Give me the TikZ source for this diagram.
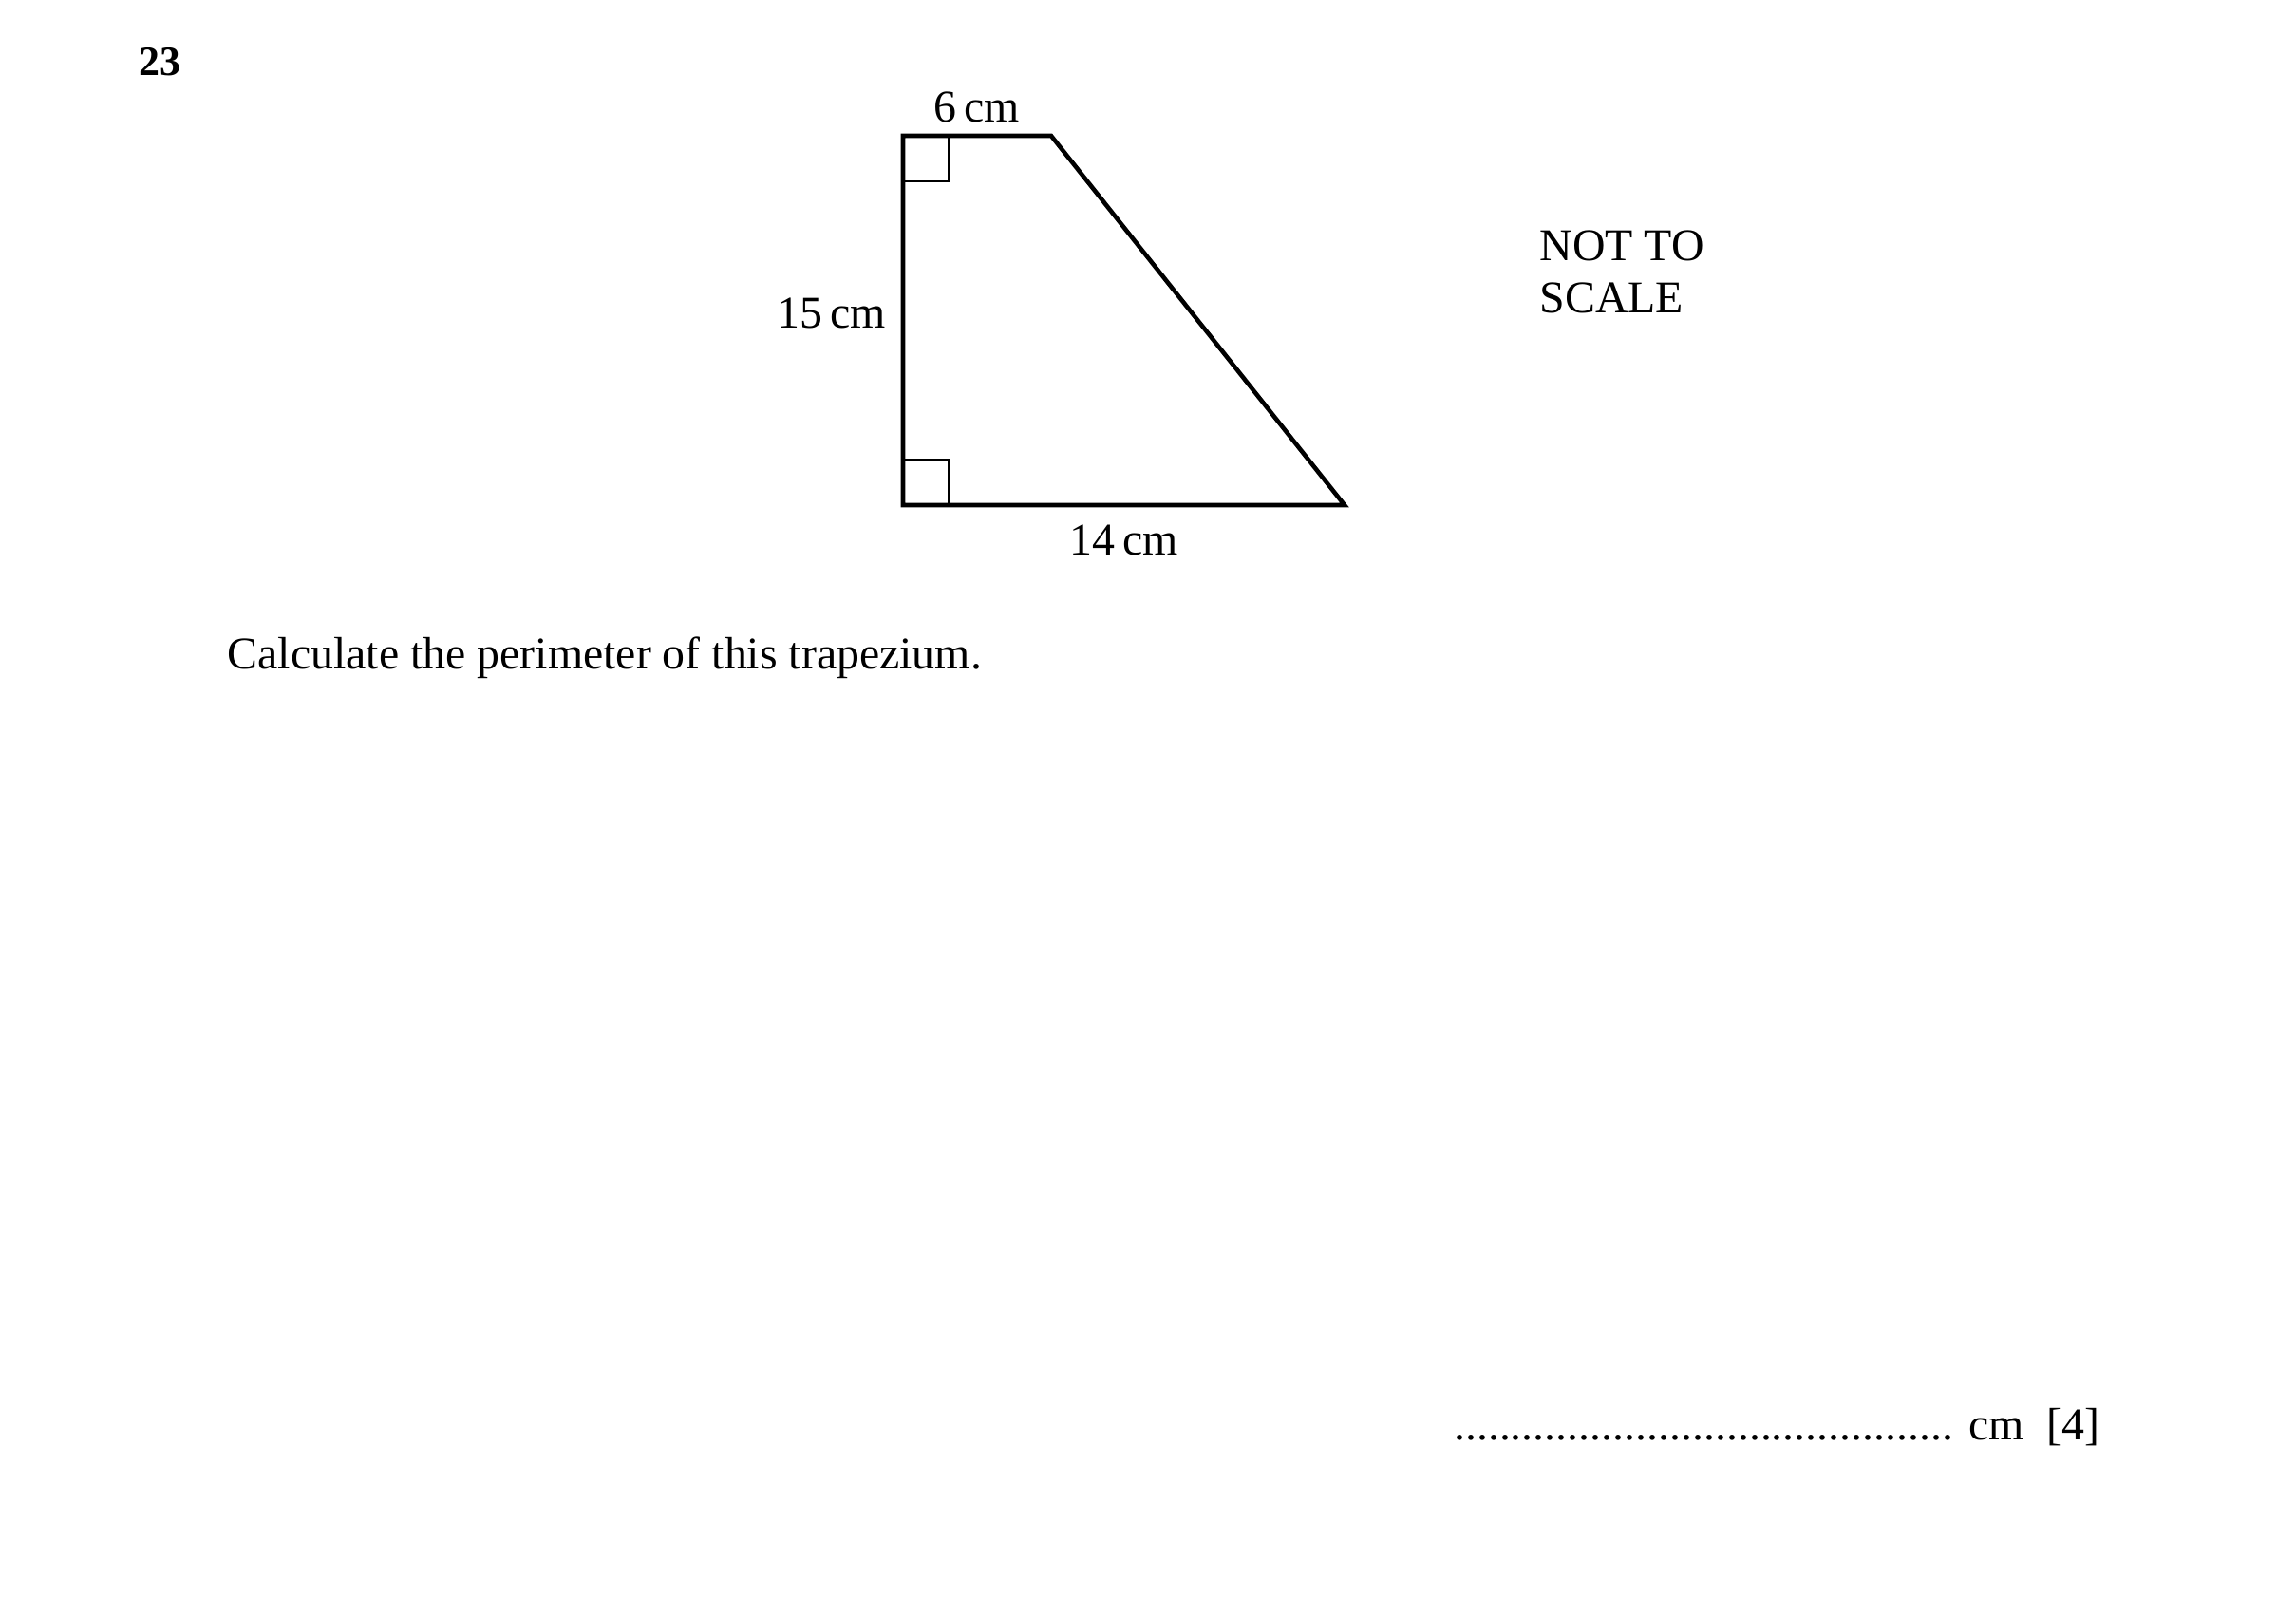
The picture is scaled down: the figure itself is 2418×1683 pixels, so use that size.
\documentclass[tikz,border=0pt]{standalone}
\usepackage{fontspec}
\setmainfont{Liberation Serif}
\usetikzlibrary{positioning}
\tikzset{
    edge/.style={line width=1.3pt, line join=miter},
    rightangle/.style={line width=0.6pt},
    txt/.style={inner sep=0pt, font=\fontsize{13.6}{15.8}\selectfont}
}
\begin{document}
\begin{tikzpicture}[x=0.01cm, y=-0.01cm]
            \useasboundingbox (0,0) rectangle (2418,1683);

            \coordinate (tl) at (951,143);
            \coordinate (tr) at (1107,143);
            \coordinate (br) at (1416,532);
            \coordinate (bl) at (951,532);

            \draw [rightangle] (tl) ++(0,48) -- ++(48,0) -- ++(0,-48);
            \draw [rightangle] (bl) ++(0,-48) -- ++(48,0) -- ++(0,48);
            \draw [edge] (tl) -- (tr) -- (br) -- (bl) -- cycle;

            \node [txt] (top) at (1029,113) {6\,cm};
            \node [txt] (side) at (876,330) {15\,cm};
            \node [txt] (base) at (1184,569) {14\,cm};

            \node [txt, align=left, anchor=north west] (note) at (1621,242) {NOT TO\\SCALE};

            \node [txt, font=\fontsize{12.5}{14}\selectfont\bfseries] (num) at (168,65) {23};
            \node [txt, anchor=west] (question) at (239,693) {Calculate the perimeter of this trapezium.};
            \node [txt, anchor=east] (answer) at (2212,1503) {............................................ cm\ \ [4]};
    \end{tikzpicture}
\end{document}
